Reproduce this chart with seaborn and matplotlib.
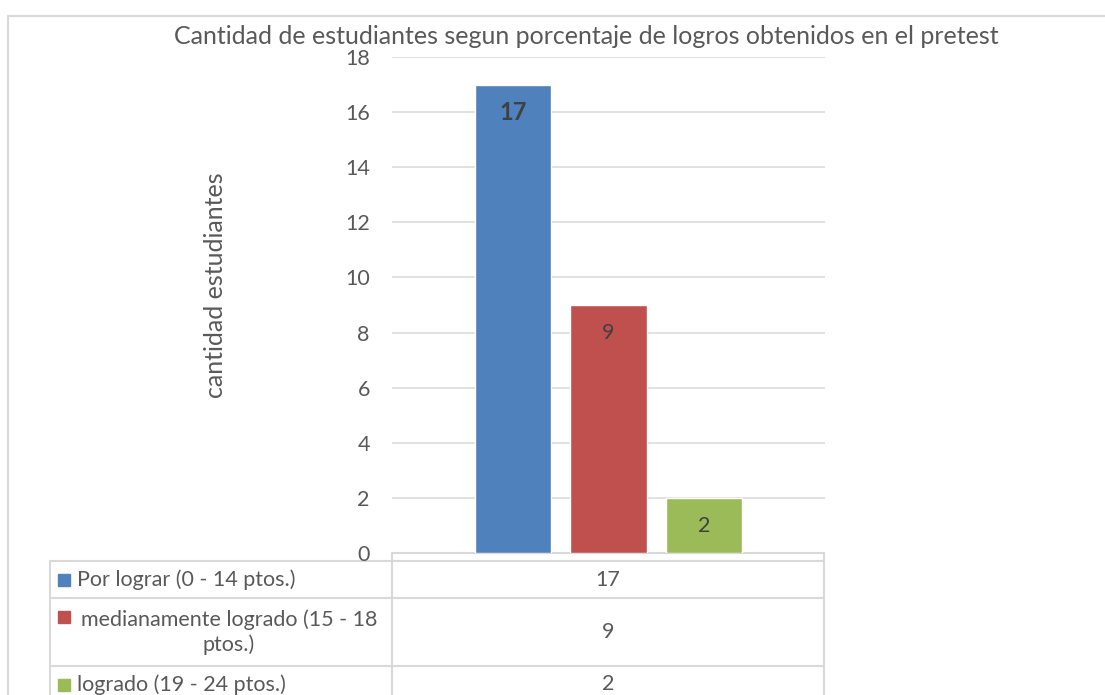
import matplotlib
matplotlib.use("Agg")
import matplotlib.pyplot as plt
import seaborn as sns
import pandas as pd

# datos del pretest
niveles = ["Por lograr (0 - 14 ptos.)", "medianamente logrado (15 - 18 ptos.)", "logrado (19 - 24 ptos.)"]
etiquetas_tabla = ["Por lograr (0 - 14 ptos.)", "medianamente logrado (15 - 18\nptos.)", "logrado (19 - 24 ptos.)"]
cantidad = [17, 9, 2]
colores = ["#4F81BD", "#C0504D", "#9BBB59"]
negrita = [True, False, False]

titulo = "Cantidad de estudiantes segun porcentaje de logros obtenidos en el pretest"
ylabel = "cantidad estudiantes"

sns.set_theme(style="white")
plt.rcParams["font.family"] = ["Lato", "DejaVu Sans"]
gris = "#595959"
linea = "#D9D9D9"
fs = 15.5

W, H = 1105, 695
fig = plt.figure(figsize=(W / 100, H / 100), dpi=100)

# capa de fondo en pixeles: borde y tabla de datos
bg = fig.add_axes([0, 0, 1, 1])
bg.set_xlim(0, W)
bg.set_ylim(H, 0)
bg.axis("off")
bg.plot([8, W], [16, 16], color=linea, lw=1.5)
bg.plot([8, 8], [16, H], color=linea, lw=1.5)

df = pd.DataFrame({"nivel": niveles, "cantidad": cantidad})

ax = fig.add_axes([392 / W, (H - 553) / H, (825 - 392) / W, (553 - 57) / H])
sns.barplot(data=df, x="nivel", y="cantidad", hue="nivel", palette=colores,
            saturation=1, legend=False, width=0.8, ax=ax, zorder=3)
ax.set_xlim(-1.267, 3.267)
ax.set_ylim(0, 18)
ax.set_yticks(range(0, 19, 2))
ax.set_xticks([])
ax.set_xlabel("")
ax.set_ylabel(ylabel, fontsize=18, color=gris)
ax.yaxis.set_label_coords((227 - 392) / (825 - 392), (553 - 285) / (553 - 57))
ax.tick_params(axis="y", length=0, pad=16, labelsize=fs, labelcolor=gris)
ax.grid(axis="y", color=linea, lw=1.1, zorder=0)
for s in ax.spines.values():
    s.set_visible(False)
ax.set_facecolor("none")

for i, v in enumerate(cantidad):
    ax.annotate(str(v), xy=(i, v), xytext=(0, -20), textcoords="offset points",
                ha="center", va="center", fontsize=17 if negrita[i] else fs,
                fontweight="bold" if negrita[i] else "normal", color="#404040")

fig.text(586 / W, 1 - 37 / H, titulo, ha="center", va="center", fontsize=18, color=gris)

# tabla de datos
filas = [561, 598, 666, 703]
bg.plot([392, 392, 824, 824], [561, 553, 553, 561], color=linea, lw=1.5)
for y in filas:
    bg.plot([50, 824], [y, y], color=linea, lw=1.5)
for x in [50, 392, 824]:
    bg.plot([x, x], [561, 703], color=linea, lw=1.5)

for i in range(len(cantidad)):
    yc = (filas[i] + filas[i + 1]) / 2
    bg.text(608, yc, str(cantidad[i]), ha="center", va="center", fontsize=fs, color=gris)
    if "\n" in etiquetas_tabla[i]:
        bg.text(229, yc, etiquetas_tabla[i], ha="center", va="center",
                multialignment="center", fontsize=fs, color=gris, linespacing=1.3)
        bg.add_patch(plt.Rectangle((58, 611), 12, 12, color=colores[i]))
    else:
        bg.text(77, yc, etiquetas_tabla[i], ha="left", va="center", fontsize=fs, color=gris)
        bg.add_patch(plt.Rectangle((58, yc - 6), 12, 12, color=colores[i]))

fig.savefig("out.png", dpi=100)
